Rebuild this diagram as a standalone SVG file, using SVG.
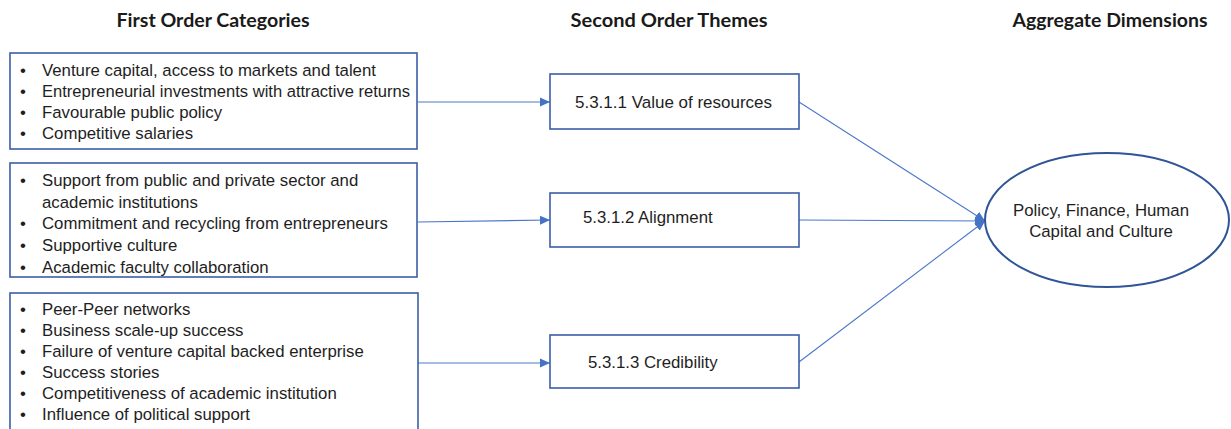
<svg xmlns="http://www.w3.org/2000/svg" width="1231" height="429" viewBox="0 0 1231 429">
<style>
.hdr{font-family:Lato,"Open Sans","Liberation Sans",sans-serif;font-weight:700;font-size:18px;fill:#1a1a1a}
.t{font-family:"Liberation Sans",Arial,sans-serif;font-size:16.8px;fill:#1e1e1e}
.box{fill:#fff;stroke:#3B5EA6;stroke-width:1.6}
.ell{fill:#fff;stroke:#2F5597;stroke-width:2}
.con{fill:none;stroke:#4A78C8;stroke-width:1.1}
</style>
<defs>
<marker id="arr" markerUnits="userSpaceOnUse" markerWidth="11" markerHeight="11" refX="10" refY="5.5" orient="auto">
<path d="M0,1 L10,5.5 L0,10 Z" fill="#4472C4"/>
</marker>
</defs>
<rect width="1231" height="429" fill="#fff"/>
<g id="headers">
<text class="hdr" x="213" y="27" text-anchor="middle" textLength="193" lengthAdjust="spacingAndGlyphs">First Order Categories</text>
<text class="hdr" x="669" y="27" text-anchor="middle" textLength="197" lengthAdjust="spacingAndGlyphs">Second Order Themes</text>
<text class="hdr" x="1110" y="27" text-anchor="middle" textLength="195" lengthAdjust="spacingAndGlyphs">Aggregate Dimensions</text>
</g>
<g id="connectors">
<line class="con" x1="418" y1="102" x2="550" y2="102" marker-end="url(#arr)"/>
<line class="con" x1="418" y1="222" x2="550" y2="220" marker-end="url(#arr)"/>
<line class="con" x1="418" y1="363" x2="550" y2="363" marker-end="url(#arr)"/>
<line class="con" x1="799" y1="102" x2="985" y2="221" marker-end="url(#arr)"/>
<line class="con" x1="799" y1="220" x2="985" y2="221" marker-end="url(#arr)"/>
<line class="con" x1="799" y1="362" x2="985" y2="221" marker-end="url(#arr)"/>
</g>
<g id="cat1">
<rect class="box" x="10" y="53" width="407" height="96"/>
<text class="t"><tspan x="20" y="76">•</tspan><tspan x="42" y="76">Venture capital, access to markets and talent</tspan>
<tspan x="20" y="97">•</tspan><tspan x="42" y="97" textLength="368" lengthAdjust="spacingAndGlyphs">Entrepreneurial investments with attractive returns</tspan>
<tspan x="20" y="118">•</tspan><tspan x="42" y="118">Favourable public policy</tspan>
<tspan x="20" y="139">•</tspan><tspan x="42" y="139">Competitive salaries</tspan></text>
</g>
<g id="cat2">
<rect class="box" x="10" y="163" width="407" height="114"/>
<text class="t"><tspan x="20" y="186">•</tspan><tspan x="42" y="186">Support from public and private sector and</tspan>
<tspan x="42" y="208">academic institutions</tspan>
<tspan x="20" y="229">•</tspan><tspan x="42" y="229">Commitment and recycling from entrepreneurs</tspan>
<tspan x="20" y="251">•</tspan><tspan x="42" y="251">Supportive culture</tspan>
<tspan x="20" y="273">•</tspan><tspan x="42" y="273">Academic faculty collaboration</tspan></text>
</g>
<g id="cat3">
<rect class="box" x="10" y="293" width="408" height="145"/>
<text class="t"><tspan x="20" y="315">•</tspan><tspan x="42" y="315">Peer-Peer networks</tspan>
<tspan x="20" y="336">•</tspan><tspan x="42" y="336">Business scale-up success</tspan>
<tspan x="20" y="357">•</tspan><tspan x="42" y="357">Failure of venture capital backed enterprise</tspan>
<tspan x="20" y="378">•</tspan><tspan x="42" y="378">Success stories</tspan>
<tspan x="20" y="399">•</tspan><tspan x="42" y="399">Competitiveness of academic institution</tspan>
<tspan x="20" y="420">•</tspan><tspan x="42" y="420">Influence of political support</tspan></text>
</g>
<g id="theme1">
<rect class="box" x="550" y="74" width="249" height="55"/>
<text class="t" x="575" y="108" textLength="197" lengthAdjust="spacingAndGlyphs">5.3.1.1 Value of resources</text>
</g>
<g id="theme2">
<rect class="box" x="550" y="193" width="249" height="54"/>
<text class="t" x="583" y="223">5.3.1.2 Alignment</text>
</g>
<g id="theme3">
<rect class="box" x="550" y="335" width="249" height="53"/>
<text class="t" x="588" y="368">5.3.1.3 Credibility</text>
</g>
<g id="aggregate">
<ellipse class="ell" cx="1107" cy="220" rx="122" ry="67"/>
<text class="t" text-anchor="middle"><tspan x="1101" y="216">Policy, Finance, Human</tspan><tspan x="1101" y="237">Capital and Culture</tspan></text>
</g>
</svg>
